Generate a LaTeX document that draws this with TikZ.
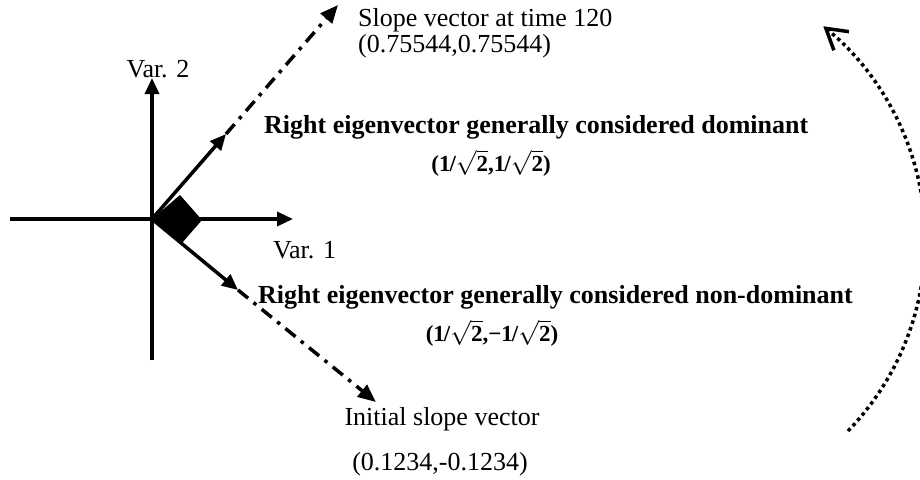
\documentclass[tikz,border=0pt]{standalone}
\usepackage{fontspec}
\setmainfont{Liberation Serif}
\usetikzlibrary{arrows.meta}
\newcommand{\invroot}{1\kern-1pt/$\sqrt{\hbox{\bfseries 2}}$}

\begin{document}
\begin{tikzpicture}[
    x=1pt, y=-1pt,
    axis/.style={line width=3.5pt, -{Triangle[length=16pt,width=14pt]}},
    slope/.style={line width=3.5pt, dash pattern=on 13pt off 7pt on 3.5pt off 7pt, -{Triangle[length=18pt,width=15pt]}},
    turn/.style={line width=3.5pt, dash pattern=on 3.5pt off 3.5pt, -{Straight Barb[length=20pt,width=24pt,line width=3.5pt]}},
    lbl/.style={inner sep=0pt, font=\fontsize{26}{27}\selectfont},
    eig/.style={inner sep=0pt, font=\fontsize{26}{27}\selectfont\bfseries},
    vec/.style={inner sep=0pt, font=\fontsize{23}{24}\selectfont\bfseries}
]
\useasboundingbox (0,0) rectangle (920,479);

\coordinate (O) at (152,219);
\coordinate (xl) at (10,219);
\coordinate (xr) at (293,219);
\coordinate (yb) at (152,360);
\coordinate (yt) at (152,78);
\coordinate (dom) at (226,134);
\coordinate (s120) at (338,5);
\coordinate (nondom) at (238,290);
\coordinate (s0) at (376,402);
\coordinate (arcS) at (848,431);

\draw[axis] (xl) -- (xr);
\draw[axis] (yb) -- (yt);
\fill (O) -- (180,195) -- (202,220) -- (182,243) -- cycle;
\draw[axis] (O) -- (dom);
\draw[axis] (O) -- (nondom);
\draw[slope] (dom) -- (s120);
\draw[slope] (nondom) -- (s0);
\draw[turn] (arcS) arc[start angle=-44, end angle=51, radius=275pt];

\node[lbl, anchor=base west] (t120) at (358,27) {Slope vector at time 120};
\node[lbl, anchor=base west] (t120val) at (358,52) {(0.75544,0.75544)};
\node[lbl] (var2) at (158,69) {Var. 2};
\node[lbl, anchor=base west] (var1) at (273,258) {Var. 1};
\node[eig, anchor=base west] (domlbl) at (264,133) {Right eigenvector generally considered dominant};
\node[vec] (domvec) at (491,163) {(\invroot,\invroot)};
\node[eig, anchor=base west] (ndlbl) at (258,303) {Right eigenvector generally considered non-dominant};
\node[vec] (ndvec) at (492,333) {(\invroot,−\invroot)};
\node[lbl] (t0) at (442,419) {Initial slope vector};
\node[lbl] (t0val) at (440,464) {(0.1234,-0.1234)};
\end{tikzpicture}
\end{document}
